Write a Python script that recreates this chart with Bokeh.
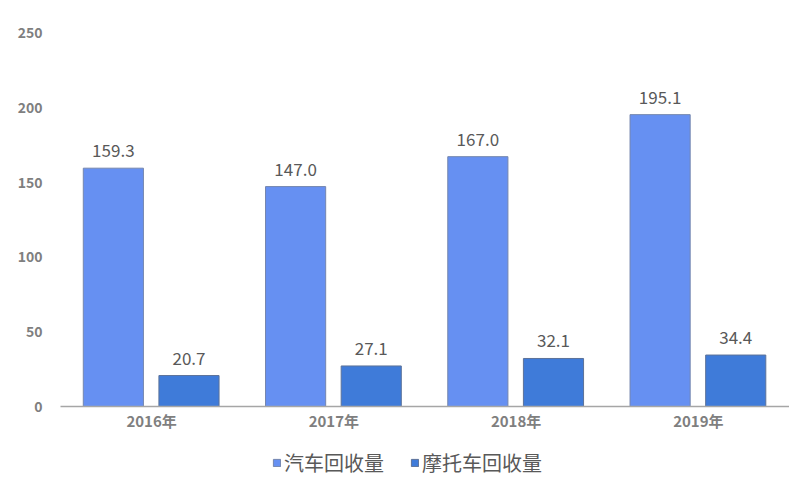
from bokeh.plotting import figure
from bokeh.layouts import column
from bokeh.models import ColumnDataSource, FactorRange, Legend, LegendItem, LabelSet, SingleIntervalTicker
from bokeh.core.properties import value
from bokeh.transform import dodge
from bokeh.embed import file_html
from bokeh.resources import INLINE

years = ["2016年", "2017年", "2018年", "2019年"]
car = [159.3, 147.0, 167.0, 195.1]
moto = [20.7, 27.1, 32.1, 34.4]
series_names = ["汽车回收量", "摩托车回收量"]
colors = ["#6690F2", "#3F7BD9"]
outlines = ["#7486AE", "#5C7299"]

src = ColumnDataSource(dict(
    years=years, car=car, moto=moto,
    car_lbl=[f"{v:.1f}" for v in car],
    moto_lbl=[f"{v:.1f}" for v in moto],
))

FONT = "Noto Sans CJK SC"
W = 789

p = figure(x_range=FactorRange(*years), y_range=(0, 250),
           width=W, height=440, output_backend="svg", toolbar_location=None,
           min_border_left=60, min_border_right=0, min_border_top=32, min_border_bottom=34)

offsets = [-0.21, 0.205]
r1 = p.vbar(x=dodge("years", offsets[0], range=p.x_range), top="car", width=0.33, source=src,
            fill_color=colors[0], line_color=outlines[0], line_width=1)
r2 = p.vbar(x=dodge("years", offsets[1], range=p.x_range), top="moto", width=0.33, source=src,
            fill_color=colors[1], line_color=outlines[1], line_width=1)

for xo, col in zip(offsets, ["car", "moto"]):
    ls = LabelSet(x=dodge("years", xo, range=p.x_range), y=col, text=col + "_lbl", source=src,
                  y_offset=11, text_align="center", text_font_size="17px",
                  text_color="#595959", text_font=value(FONT))
    p.add_layout(ls)

p.xgrid.visible = False
p.ygrid.visible = False
p.outline_line_color = None
p.x_range.range_padding = 0.0

p.yaxis.ticker = SingleIntervalTicker(interval=50)
p.yaxis.axis_line_color = None
p.yaxis.major_tick_line_color = None
p.yaxis.minor_tick_line_color = None
p.yaxis.major_label_standoff = 12
p.yaxis.major_label_text_font_size = "14px"
p.yaxis.major_label_text_font_style = "bold"
p.yaxis.major_label_text_color = "#7F7F7F"
p.yaxis.major_label_text_font = FONT

p.xaxis.axis_line_color = "#A6A6A6"
p.xaxis.axis_line_width = 1.5
p.xaxis.major_tick_line_color = None
p.xaxis.minor_tick_line_color = None
p.xaxis.major_tick_out = 0
p.xaxis.major_label_standoff = 3
p.xaxis.major_label_text_font_size = "15px"
p.xaxis.major_label_text_font_style = "bold"
p.xaxis.major_label_text_color = "#7F7F7F"
p.xaxis.major_label_text_font = FONT

# legend strip below the chart
p2 = figure(width=W, height=37, x_range=(0, 1), y_range=(0, 1),
            output_backend="svg", toolbar_location=None,
            x_axis_location=None, y_axis_location=None, min_border=0)
p2.xgrid.visible = False
p2.ygrid.visible = False
p2.outline_line_color = None
d1 = p2.vbar(x=[-5], top=[-5], width=0.1, fill_color=colors[0], line_color=outlines[0])
d2 = p2.vbar(x=[-5], top=[-5], width=0.1, fill_color=colors[1], line_color=outlines[1])

legend = Legend(items=[LegendItem(label=series_names[0], renderers=[d1]),
                       LegendItem(label=series_names[1], renderers=[d2])],
                orientation="horizontal", location=(212, 0),
                label_text_font_size="20px", label_text_color="#595959", label_text_font=FONT,
                glyph_width=9, glyph_height=9, spacing=26, label_standoff=3,
                border_line_color=None, background_fill_alpha=0, margin=0, padding=2)
p2.add_layout(legend, "center")

layout = column(p, p2, spacing=0)
open("out.html", "w").write(file_html(layout, INLINE))
